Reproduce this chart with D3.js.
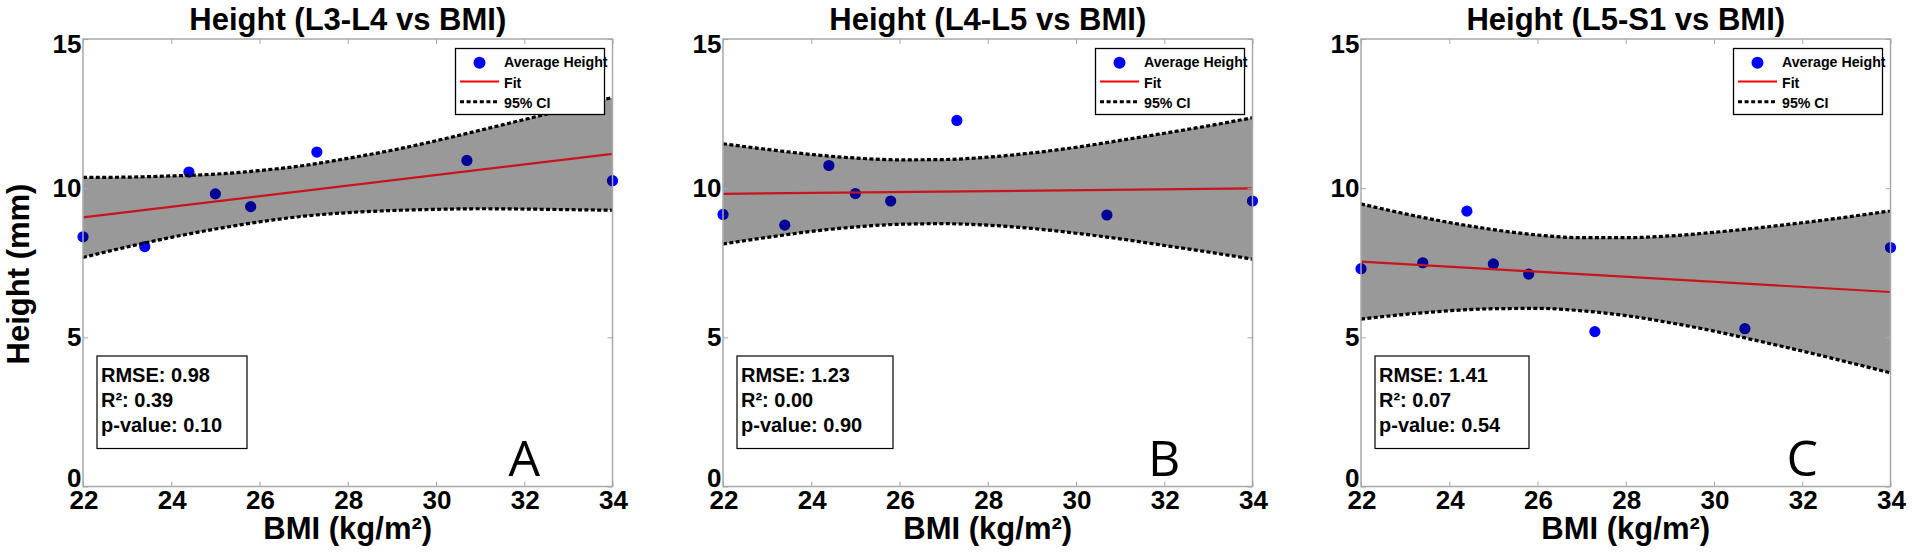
<!DOCTYPE html>
<html>
<head>
<meta charset="utf-8">
<script src="https://cdn.jsdelivr.net/npm/d3@7"></script>
<style>
  html, body { margin: 0; padding: 0; background: #fff; }
  svg { display: block; }
  .bold { font-family: "Liberation Sans", Arial, sans-serif; font-weight: bold; }
</style>
</head>
<body>
<svg id="chart" width="1912" height="560"></svg>
<script>
// ---------------- DATA ----------------
const panelTitles = ["Height (L3-L4 vs BMI)", "Height (L4-L5 vs BMI)", "Height (L5-S1 vs BMI)"];
const panelLetters = ["A", "B", "C"];
const bmi = [22, 23.4, 24.4, 25, 25.8, 27.3, 30.7, 34];
const heightL3L4 = [8.37, 8.04, 10.54, 9.81, 9.38, 11.21, 10.93, 10.25];
const heightL4L5 = [9.12, 8.76, 10.76, 9.82, 9.57, 12.27, 9.10, 9.57];
const heightL5S1 = [7.30, 7.50, 9.23, 7.46, 7.12, 5.19, 5.29, 8.01];

const fitX = [22, 34];
const fitL3L4 = [9.02, 11.15];
const fitL4L5 = [9.81, 9.99];
const fitL5S1 = [7.54, 6.52];

const ciX = [22, 23, 24, 25, 26, 27, 28, 29, 30, 31, 32, 33, 34];
const ciUpperL3L4 = [10.36, 10.37, 10.41, 10.47, 10.59, 10.76, 11.00, 11.27, 11.59, 11.94, 12.30, 12.66, 13.04];
const ciLowerL3L4 = [7.68, 8.03, 8.35, 8.63, 8.87, 9.06, 9.18, 9.25, 9.29, 9.31, 9.30, 9.28, 9.26];
const ciUpperL4L5 = [11.49, 11.30, 11.13, 11.01, 10.95, 10.96, 11.04, 11.18, 11.37, 11.60, 11.84, 12.09, 12.36];
const ciLowerL4L5 = [8.13, 8.35, 8.55, 8.70, 8.79, 8.81, 8.76, 8.65, 8.49, 8.30, 8.08, 7.86, 7.62];
const ciUpperL5S1 = [9.47, 9.14, 8.85, 8.61, 8.43, 8.34, 8.34, 8.40, 8.52, 8.67, 8.84, 9.03, 9.24];
const ciLowerL5S1 = [5.61, 5.77, 5.89, 5.96, 5.97, 5.89, 5.73, 5.49, 5.21, 4.88, 4.54, 4.18, 3.81];

const rmseValues = ["0.98", "1.23", "1.41"];
const r2Values = ["0.39", "0.00", "0.07"];
const pValues = ["0.10", "0.90", "0.54"];

const xTicks = [22, 24, 26, 28, 30, 32, 34];
const yTicks = [0, 5, 10, 15];
const legendLabels = ["Average Height", "Fit", "95% CI"];
const xAxisLabel = "BMI (kg/m²)";
const yAxisLabel = "Height (mm)";

// ---------------- LAYOUT ----------------
const panels = [
  { left: 83,   heights: heightL3L4, fit: fitL3L4, up: ciUpperL3L4, lo: ciLowerL3L4, boxW: 150 },
  { left: 723,  heights: heightL4L5, fit: fitL4L5, up: ciUpperL4L5, lo: ciLowerL4L5, boxW: 156 },
  { left: 1361, heights: heightL5S1, fit: fitL5S1, up: ciUpperL5S1, lo: ciLowerL5S1, boxW: 154 }
];
const plotW = 529.5, plotTop = 39, plotBottom = 486.5;
const frameColor = "#a9a9a9";

const svg = d3.select("#chart");

panels.forEach((p, i) => {
  const x = d3.scaleLinear().domain([22, 34]).range([p.left, p.left + plotW]);
  const y = d3.scaleLinear().domain([0, 15]).range([plotBottom, plotTop]);
  const g = svg.append("g");

  // points (drawn under the translucent band)
  g.selectAll("circle.pt").data(bmi).join("circle")
    .attr("class", "pt")
    .attr("cx", d => x(d))
    .attr("cy", (d, j) => y(p.heights[j]))
    .attr("r", 5.6)
    .attr("fill", "#0000ff");

  // band
  const area = d3.area()
    .x((d, j) => x(ciX[j]))
    .y0((d, j) => y(p.lo[j]))
    .y1((d, j) => y(p.up[j]))
    .curve(d3.curveMonotoneX);
  g.append("path").datum(ciX).attr("d", area)
    .attr("fill", "#000").attr("fill-opacity", 0.4);

  // fit line
  const fitLine = d3.line().x((d, j) => x(fitX[j])).y((d, j) => y(p.fit[j]));
  g.append("path").datum(fitX).attr("d", fitLine)
    .attr("fill", "none").attr("stroke", "#c8141c").attr("stroke-width", 2.2);

  // CI dashed lines
  [p.up, p.lo].forEach(arr => {
    const ln = d3.line().x((d, j) => x(ciX[j])).y((d, j) => y(arr[j])).curve(d3.curveMonotoneX);
    g.append("path").datum(ciX).attr("d", ln)
      .attr("fill", "none").attr("stroke", "#000")
      .attr("stroke-width", 3.2).attr("stroke-dasharray", "4 2.4");
  });

  // frame
  g.append("rect")
    .attr("x", p.left).attr("y", plotTop)
    .attr("width", plotW).attr("height", plotBottom - plotTop)
    .attr("fill", "none").attr("stroke", frameColor).attr("stroke-width", 1.5);

  // inward ticks on all four sides using d3 axes
  const tickLen = 5;
  const axB = g.append("g").attr("transform", `translate(0,${plotBottom})`)
    .call(d3.axisTop(x).tickValues(xTicks).tickSize(tickLen).tickFormat(""));
  const axT = g.append("g").attr("transform", `translate(0,${plotTop})`)
    .call(d3.axisBottom(x).tickValues(xTicks).tickSize(tickLen).tickFormat(""));
  const axL = g.append("g").attr("transform", `translate(${p.left},0)`)
    .call(d3.axisRight(y).tickValues(yTicks).tickSize(tickLen).tickFormat(""));
  const axR = g.append("g").attr("transform", `translate(${p.left + plotW},0)`)
    .call(d3.axisLeft(y).tickValues(yTicks).tickSize(tickLen).tickFormat(""));
  [axB, axT, axL, axR].forEach(a => {
    a.select(".domain").remove();
    a.selectAll("line").attr("stroke", frameColor).attr("stroke-width", 1);
  });

  // x tick labels
  g.selectAll("text.xt").data(xTicks).join("text")
    .attr("class", "xt bold")
    .attr("x", d => x(d) + 1)
    .attr("y", 509)
    .attr("text-anchor", "middle")
    .attr("font-size", 26)
    .text(d => d);

  // y tick labels (clamped inside the axis span like MATLAB)
  g.selectAll("text.yt").data(yTicks).join("text")
    .attr("class", "yt bold")
    .attr("x", p.left - 1.5)
    .attr("y", d => Math.min(Math.max(y(d) + 8.5, plotTop + 14), plotBottom + 0.5))
    .attr("text-anchor", "end")
    .attr("font-size", 26)
    .text(d => d);

  // title
  g.append("text").attr("class", "bold")
    .attr("x", p.left + plotW / 2).attr("y", 29.5)
    .attr("text-anchor", "middle").attr("font-size", 31)
    .text(panelTitles[i]);

  // x label
  g.append("text").attr("class", "bold")
    .attr("x", p.left + plotW / 2).attr("y", 539)
    .attr("text-anchor", "middle").attr("font-size", 31)
    .text(xAxisLabel);

  // legend
  const lgW = 149, lgH = 66;
  const lg = g.append("g").attr("transform", `translate(${p.left + plotW - 8 - lgW},48.5)`);
  lg.append("rect").attr("width", lgW).attr("height", lgH)
    .attr("fill", "#fff").attr("stroke", "#000").attr("stroke-width", 1.3);
  lg.append("circle").attr("cx", 24).attr("cy", 14.2).attr("r", 6).attr("fill", "#0000ff");
  lg.append("line").attr("x1", 4.5).attr("x2", 43.5).attr("y1", 33).attr("y2", 33)
    .attr("stroke", "#ff0000").attr("stroke-width", 2.2);
  lg.append("line").attr("x1", 4.5).attr("x2", 43.5).attr("y1", 53.3).attr("y2", 53.3)
    .attr("stroke", "#000").attr("stroke-width", 3).attr("stroke-dasharray", "4 2.6");
  lg.selectAll("text").data(legendLabels).join("text")
    .attr("class", "bold")
    .attr("x", 48.5)
    .attr("y", (d, j) => 18.7 + j * 20.4)
    .attr("font-size", 14.2)
    .text(d => d);

  // stats box
  const sb = g.append("g").attr("transform", `translate(${p.left + 14},356)`);
  sb.append("rect").attr("width", p.boxW).attr("height", 92.5)
    .attr("fill", "#fff").attr("stroke", "#000").attr("stroke-width", 1.2);
  const statLines = [`RMSE: ${rmseValues[i]}`, `R²: ${r2Values[i]}`, `p-value: ${pValues[i]}`];
  sb.selectAll("text").data(statLines).join("text")
    .attr("class", "bold")
    .attr("x", 4)
    .attr("y", (d, j) => 25.5 + j * 25.1)
    .attr("font-size", 20)
    .text(d => d);

  // panel letter
  g.append("text")
    .attr("x", x(32)).attr("y", 476)
    .attr("text-anchor", "middle")
    .attr("font-family", "'Open Sans', 'Noto Sans', sans-serif")
    .attr("font-size", 50)
    .text(panelLetters[i]);
});

// y axis label (only first panel)
svg.append("text").attr("class", "bold")
  .attr("transform", "translate(29,274) rotate(-90)")
  .attr("text-anchor", "middle").attr("font-size", 31)
  .text(yAxisLabel);
</script>
</body>
</html>
